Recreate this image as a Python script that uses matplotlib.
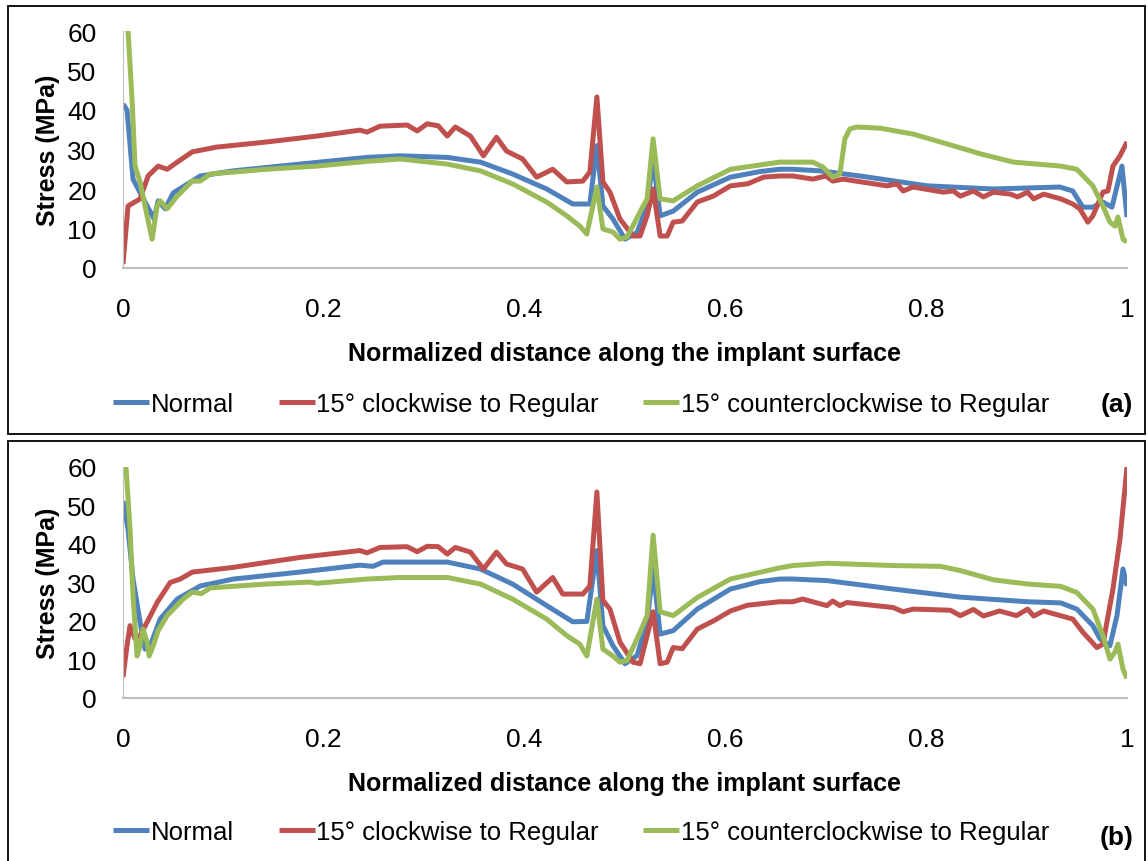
import matplotlib
matplotlib.use("Agg")
import matplotlib.pyplot as plt
from matplotlib.patches import Rectangle
import numpy as np

plt.rcParams['font.family'] = ['Liberation Sans', 'DejaVu Sans']

series_names = ['Normal', '15° clockwise to Regular', '15° counterclockwise to Regular']
colors = ['#4F81BD', '#C0504D', '#9BBB59']
xticks = [0, 0.2, 0.4, 0.6, 0.8, 1]
xtick_labels = ['0', '0.2', '0.4', '0.6', '0.8', '1']
yticks = [0, 10, 20, 30, 40, 50, 60]

# ---------------- panel (a) ----------------
a_normal_x = [0, 0.004, 0.01, 0.024, 0.031, 0.035, 0.042, 0.05, 0.077, 0.11, 0.176, 0.243, 0.276,
              0.323, 0.356, 0.388, 0.422, 0.448, 0.465, 0.472, 0.478, 0.488, 0.5, 0.512,
              0.522, 0.528, 0.535, 0.548, 0.572, 0.605, 0.634, 0.654, 0.667, 0.694, 0.734, 0.801,
              0.867, 0.933, 0.946, 0.956, 0.966, 0.976, 0.985, 0.995, 1.0]
a_normal_y = [41.5, 40, 22.5, 15.7, 12.4, 17, 15, 19, 23.3, 24.6, 26.3, 28, 28.4,
              28, 26.8, 23.8, 20, 16.2, 16.2, 31, 15.7, 12.4, 7.3, 9,
              15.7, 27.6, 13.2, 14.4, 19.2, 23, 24.4, 25, 25, 24.6, 23.3, 20.8,
              20, 20.5, 19.5, 15.4, 15.4, 16.7, 15.4, 25.8, 12.9]

a_cw_x = [0, 0.005, 0.017, 0.025, 0.035, 0.044, 0.054, 0.069, 0.093, 0.143, 0.193, 0.236,
          0.243, 0.256, 0.283, 0.293, 0.303, 0.314, 0.323, 0.331, 0.346, 0.359, 0.372,
          0.382, 0.398, 0.412, 0.428, 0.442, 0.458, 0.465, 0.472, 0.478, 0.485, 0.495,
          0.508, 0.515, 0.522, 0.528, 0.535, 0.542, 0.548, 0.557, 0.572, 0.588, 0.605,
          0.622, 0.638, 0.654, 0.667, 0.687, 0.7, 0.707, 0.717, 0.761, 0.771, 0.777,
          0.787, 0.817, 0.827, 0.834, 0.847, 0.857, 0.867, 0.884, 0.891, 0.901, 0.907,
          0.917, 0.934, 0.946, 0.953, 0.961, 0.966, 0.976, 0.981, 0.986, 0.993, 1.0]
a_cw_y = [1, 15.7, 17.5, 23.3, 25.8, 25, 26.8, 29.4, 30.6, 31.9, 33.4, 34.9,
          34.4, 35.9, 36.2, 34.7, 36.5, 36, 33.4, 35.7, 33.4, 28.4, 33.1,
          29.6, 27.6, 23, 25, 21.8, 22, 24.3, 43.3, 21.8, 19.2, 12.4,
          8.1, 8.1, 13.2, 20, 8.1, 8.1, 11.6, 11.9, 16.7, 18.2, 20.8,
          21.3, 23, 23.3, 23.3, 22.5, 23.3, 22, 22.5, 20.8, 21.3, 19.5,
          20.5, 19.2, 19.5, 18.2, 19.5, 18, 19.2, 18.7, 18, 19.2, 17.5,
          18.7, 17.5, 16.2, 15, 11.6, 13.2, 19.2, 19.5, 25.8, 28.4, 31.9]

a_ccw_x = [0, 0.005, 0.009, 0.012, 0.017, 0.024, 0.029, 0.034, 0.037, 0.044, 0.054, 0.069,
           0.077, 0.087, 0.143, 0.193, 0.243, 0.276, 0.323, 0.356, 0.388, 0.422, 0.442,
           0.455, 0.462, 0.472, 0.478, 0.488, 0.495, 0.502, 0.515, 0.522, 0.528, 0.535,
           0.548, 0.572, 0.605, 0.654, 0.687, 0.697, 0.707, 0.714, 0.719, 0.724, 0.731, 0.754,
           0.787, 0.821, 0.854, 0.887, 0.934, 0.95, 0.966, 0.976, 0.983, 0.988, 0.991,
           0.996, 1.0]
a_ccw_y = [68, 60, 42.8, 25.8, 21.8, 13.2, 7.3, 15.7, 17, 15, 18.2, 22,
           22, 23.8, 25, 25.8, 27, 27.6, 26.3, 24.6, 21.3, 16.7, 13.2,
           10.6, 8.6, 20.5, 9.9, 9.1, 7.3, 7.8, 14.2, 17.5, 32.7, 17.5,
           17, 20.8, 25, 26.8, 26.8, 25.6, 23, 23.8, 32.7, 35.2, 35.7, 35.4,
           33.9, 31.4, 28.9, 26.8, 25.8, 25, 20.8, 15.7, 11.6, 10.6, 12.9,
           7.3, 6.6]

# ---------------- panel (b) ----------------
b_normal_x = [0, 0.005, 0.01, 0.017, 0.022, 0.027, 0.037, 0.054, 0.077, 0.11, 0.176, 0.236,
              0.249, 0.259, 0.276, 0.323, 0.356, 0.388, 0.422, 0.448, 0.462, 0.472, 0.478,
              0.488, 0.5, 0.512, 0.522, 0.528, 0.535, 0.548, 0.572, 0.605, 0.634, 0.654, 0.667,
              0.701, 0.767, 0.834, 0.901, 0.934, 0.95, 0.966, 0.973, 0.983, 0.99, 0.996, 1.0]
b_normal_y = [51.2, 43.9, 30.9, 19.7, 12.7, 13.5, 20.5, 25.7, 29.1, 30.9, 32.7, 34.5,
              34.2, 35.3, 35.3, 35.3, 33.5, 29.6, 24, 19.8, 19.9, 38.3, 18.8,
              13.6, 8.9, 11, 19.7, 33.5, 16.6, 17.5, 23.1, 28.3, 30.2, 30.9, 30.9,
              30.5, 28.3, 26.2, 25, 24.7, 23.1, 18.8, 15.4, 13.6, 21.4, 33.5, 29.1]

b_cw_x = [0, 0.004, 0.007, 0.012, 0.017, 0.024, 0.034, 0.047, 0.057, 0.069, 0.109, 0.176,
          0.236, 0.243, 0.256, 0.283, 0.293, 0.303, 0.314, 0.323, 0.331, 0.346, 0.359,
          0.372, 0.382, 0.398, 0.412, 0.428, 0.438, 0.458, 0.465, 0.472, 0.478, 0.485,
          0.495, 0.508, 0.515, 0.522, 0.528, 0.535, 0.542, 0.548, 0.557, 0.572, 0.588,
          0.605, 0.622, 0.654, 0.667, 0.677, 0.701, 0.707, 0.714, 0.721, 0.767, 0.777,
          0.787, 0.824, 0.834, 0.847, 0.857, 0.873, 0.89, 0.901, 0.907, 0.917, 0.946,
          0.956, 0.97, 0.976, 0.986, 0.993, 1.0]
b_cw_y = [5.4, 13.6, 18.8, 15.4, 16.2, 19.7, 24.8, 30, 30.9, 32.7, 33.9, 36.5,
          38.3, 37.7, 39.1, 39.3, 38, 39.4, 39.3, 37.4, 39.1, 37.9, 33.5,
          37.9, 34.8, 33.5, 27.5, 31.3, 27, 27, 29.1, 53.5, 25.3, 23.1,
          14.5, 9.3, 8.9, 16.2, 22.4, 8.9, 9.3, 13.1, 12.8, 17.9, 20,
          22.6, 24.1, 25, 25, 25.7, 24, 25.2, 24, 24.8, 23.5, 22.4,
          23.1, 22.8, 21.4, 23, 21.3, 22.6, 21.4, 23.1, 21.3, 22.6, 20.5,
          17.1, 13.1, 14, 28.3, 41.3, 60]

b_ccw_x = [0, 0.003, 0.007, 0.01, 0.014, 0.017, 0.02, 0.024, 0.026, 0.03, 0.035, 0.044,
           0.06, 0.069, 0.078, 0.087, 0.143, 0.186, 0.193, 0.243, 0.276, 0.323, 0.356,
           0.388, 0.422, 0.442, 0.455, 0.462, 0.472, 0.478, 0.488, 0.495, 0.502, 0.515,
           0.522, 0.528, 0.535, 0.548, 0.572, 0.605, 0.654, 0.667, 0.701, 0.767, 0.814,
           0.834, 0.867, 0.901, 0.934, 0.95, 0.966, 0.976, 0.983, 0.988, 0.991, 0.996, 1.0]
b_ccw_y = [68, 60, 43.9, 26.5, 10.9, 13.5, 17.9, 14.5, 10.9, 13.5, 17.5, 21.4,
           25.7, 27.5, 27.1, 28.6, 29.6, 30.1, 29.8, 30.9, 31.3, 31.3, 29.6,
           25.7, 20.5, 16.2, 14, 10.9, 25.7, 12.7, 10.9, 9.3, 9.7, 17.1,
           21.4, 42.3, 22.4, 21.4, 26.1, 30.9, 33.8, 34.4, 35, 34.4, 34.2,
           33.1, 30.7, 29.6, 29, 27.4, 23.1, 16.2, 10.1, 11.9, 14, 7.5, 5.1]

panels = [
    ('(a)', [(a_normal_x, a_normal_y), (a_cw_x, a_cw_y), (a_ccw_x, a_ccw_y)]),
    ('(b)', [(b_normal_x, b_normal_y), (b_cw_x, b_cw_y), (b_ccw_x, b_ccw_y)]),
]

W, H = 1148, 862
fig = plt.figure(figsize=(W / 100, H / 100), dpi=100)

# pixel layout of each panel: axes top/bottom, frame top/bottom, legend y, tag y
layout = [
    dict(ax_top=32, ax_bot=269, fr_top=7, fr_bot=435, leg_y=405, tag_y=405),
    dict(ax_top=468, ax_bot=699, fr_top=442, fr_bot=875, leg_y=833, tag_y=838),
]
ax_left, ax_right = 123, 1127

for (tag, data), lay in zip(panels, layout):
    fig.patches.append(Rectangle((8 / W, 1 - lay['fr_bot'] / H), (1145 - 8) / W,
                                 (lay['fr_bot'] - lay['fr_top']) / H,
                                 transform=fig.transFigure, fill=False,
                                 edgecolor='black', linewidth=1.3))
    ax = fig.add_axes([ax_left / W, 1 - lay['ax_bot'] / H, (ax_right - ax_left) / W,
                       (lay['ax_bot'] - lay['ax_top']) / H])
    handles = []
    for (x, y), c, name in zip(data, colors, series_names):
        h, = ax.plot(x, y, color=c, lw=3.6, solid_joinstyle='round',
                     solid_capstyle='butt', label=name, clip_on=True)
        handles.append(h)
    ax.set_xlim(0, 1)
    ax.set_ylim(0, 60)
    ax.set_xticks(xticks)
    ax.set_xticklabels(xtick_labels)
    ax.set_yticks(yticks)
    ax.tick_params(length=0, labelsize=19, pad=19)
    ax.tick_params(axis='x', pad=21)
    for s in ['top', 'right']:
        ax.spines[s].set_visible(False)
    ax.spines['left'].set_color('#bfbfbf')
    ax.spines['bottom'].set_color('#bfbfbf')
    ax.spines['bottom'].set_linewidth(1.5)
    ax.set_ylabel('Stress (MPa)', fontsize=18, fontweight='bold', labelpad=5)
    ax.set_xlabel('Normalized distance along the implant surface', fontsize=18,
                  fontweight='bold', labelpad=14)
    fig.legend(handles=handles, loc='center', bbox_to_anchor=(581 / W, 1 - lay['leg_y'] / H),
               ncol=3, frameon=False, fontsize=18.5, handlelength=1.4, handletextpad=0.05,
               columnspacing=1.75)
    fig.text(1117 / W, 1 - lay['tag_y'] / H, tag, fontsize=19, fontweight='bold',
             ha='center', va='center')

fig.savefig('out.png', dpi=100)
